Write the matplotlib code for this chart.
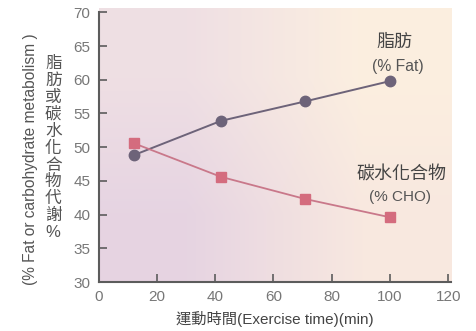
import matplotlib.pyplot as plt
import numpy as np

plt.rcParams['font.family'] = ['Liberation Sans', 'Noto Sans CJK TC', 'DejaVu Sans']

# Data
time = [12, 42, 71, 100]
fat = [48.8, 53.9, 56.8, 59.8]
cho = [50.6, 45.6, 42.3, 39.6]
xticks = [0, 20, 40, 60, 80, 100, 120]
yticks = [30, 35, 40, 45, 50, 55, 60, 65, 70]

grey = '#5c5c5c'
fat_color = '#6d6379'
cho_color = '#d46c7e'

fig = plt.figure(figsize=(4.76, 3.31), dpi=100)
ax = fig.add_axes([0.207, 0.148, 0.741, 0.827])

# soft background: lavender bottom-left to cream top-right
corners = np.array([[[0.902, 0.831, 0.886], [0.973, 0.910, 0.878]],
                    [[0.937, 0.875, 0.894], [0.988, 0.937, 0.878]]])
ax.imshow(corners, extent=[0, 121, 30, 70.6], origin='lower', aspect='auto',
          interpolation='bilinear', zorder=0)

ax.plot(time, fat, color=fat_color, lw=1.4, marker='o', ms=7.5, zorder=3)
ax.plot(time, cho, color='#c9788a', lw=1.3, marker='s', ms=7.5,
        mfc=cho_color, mec=cho_color, zorder=3)

ax.set_xlim(0, 121)
ax.set_ylim(30, 70.6)
ax.set_xticks(xticks)
ax.set_yticks(yticks)
ax.tick_params(direction='in', length=6, width=1.2, color=grey,
               labelsize=11, labelcolor='#777777', pad=6)
for side in ['top', 'right']:
    ax.spines[side].set_visible(False)
for side in ['left', 'bottom']:
    ax.spines[side].set_color(grey)
    ax.spines[side].set_linewidth(1.5)
ax.spines['left'].set_bounds(30, 70)

ax.set_xlabel('運動時間(Exercise time)(min)', fontsize=11, color='#444444', labelpad=5)

fig.text(0.065, 0.52, '(% Fat or carbohydrate metabolism )', rotation=90,
         ha='center', va='center', fontsize=11.2, color='#555555')
fig.text(0.112, 0.553, '\n'.join('脂肪或碳水化合物代謝%'), ha='center', va='center',
         fontsize=12, color='#555555', linespacing=1.15)

ax.text(101.5, 65.6, '脂肪', ha='center', va='center', fontsize=13, color='#444444')
ax.text(102.5, 61.9, '(% Fat)', ha='center', va='center', fontsize=11.3, color='#555555')
ax.text(104, 45.9, '碳水化合物', ha='center', va='center', fontsize=13, color='#444444')
ax.text(103.5, 42.6, '(% CHO)', ha='center', va='center', fontsize=11, color='#555555')

fig.savefig('out.png', dpi=100)
